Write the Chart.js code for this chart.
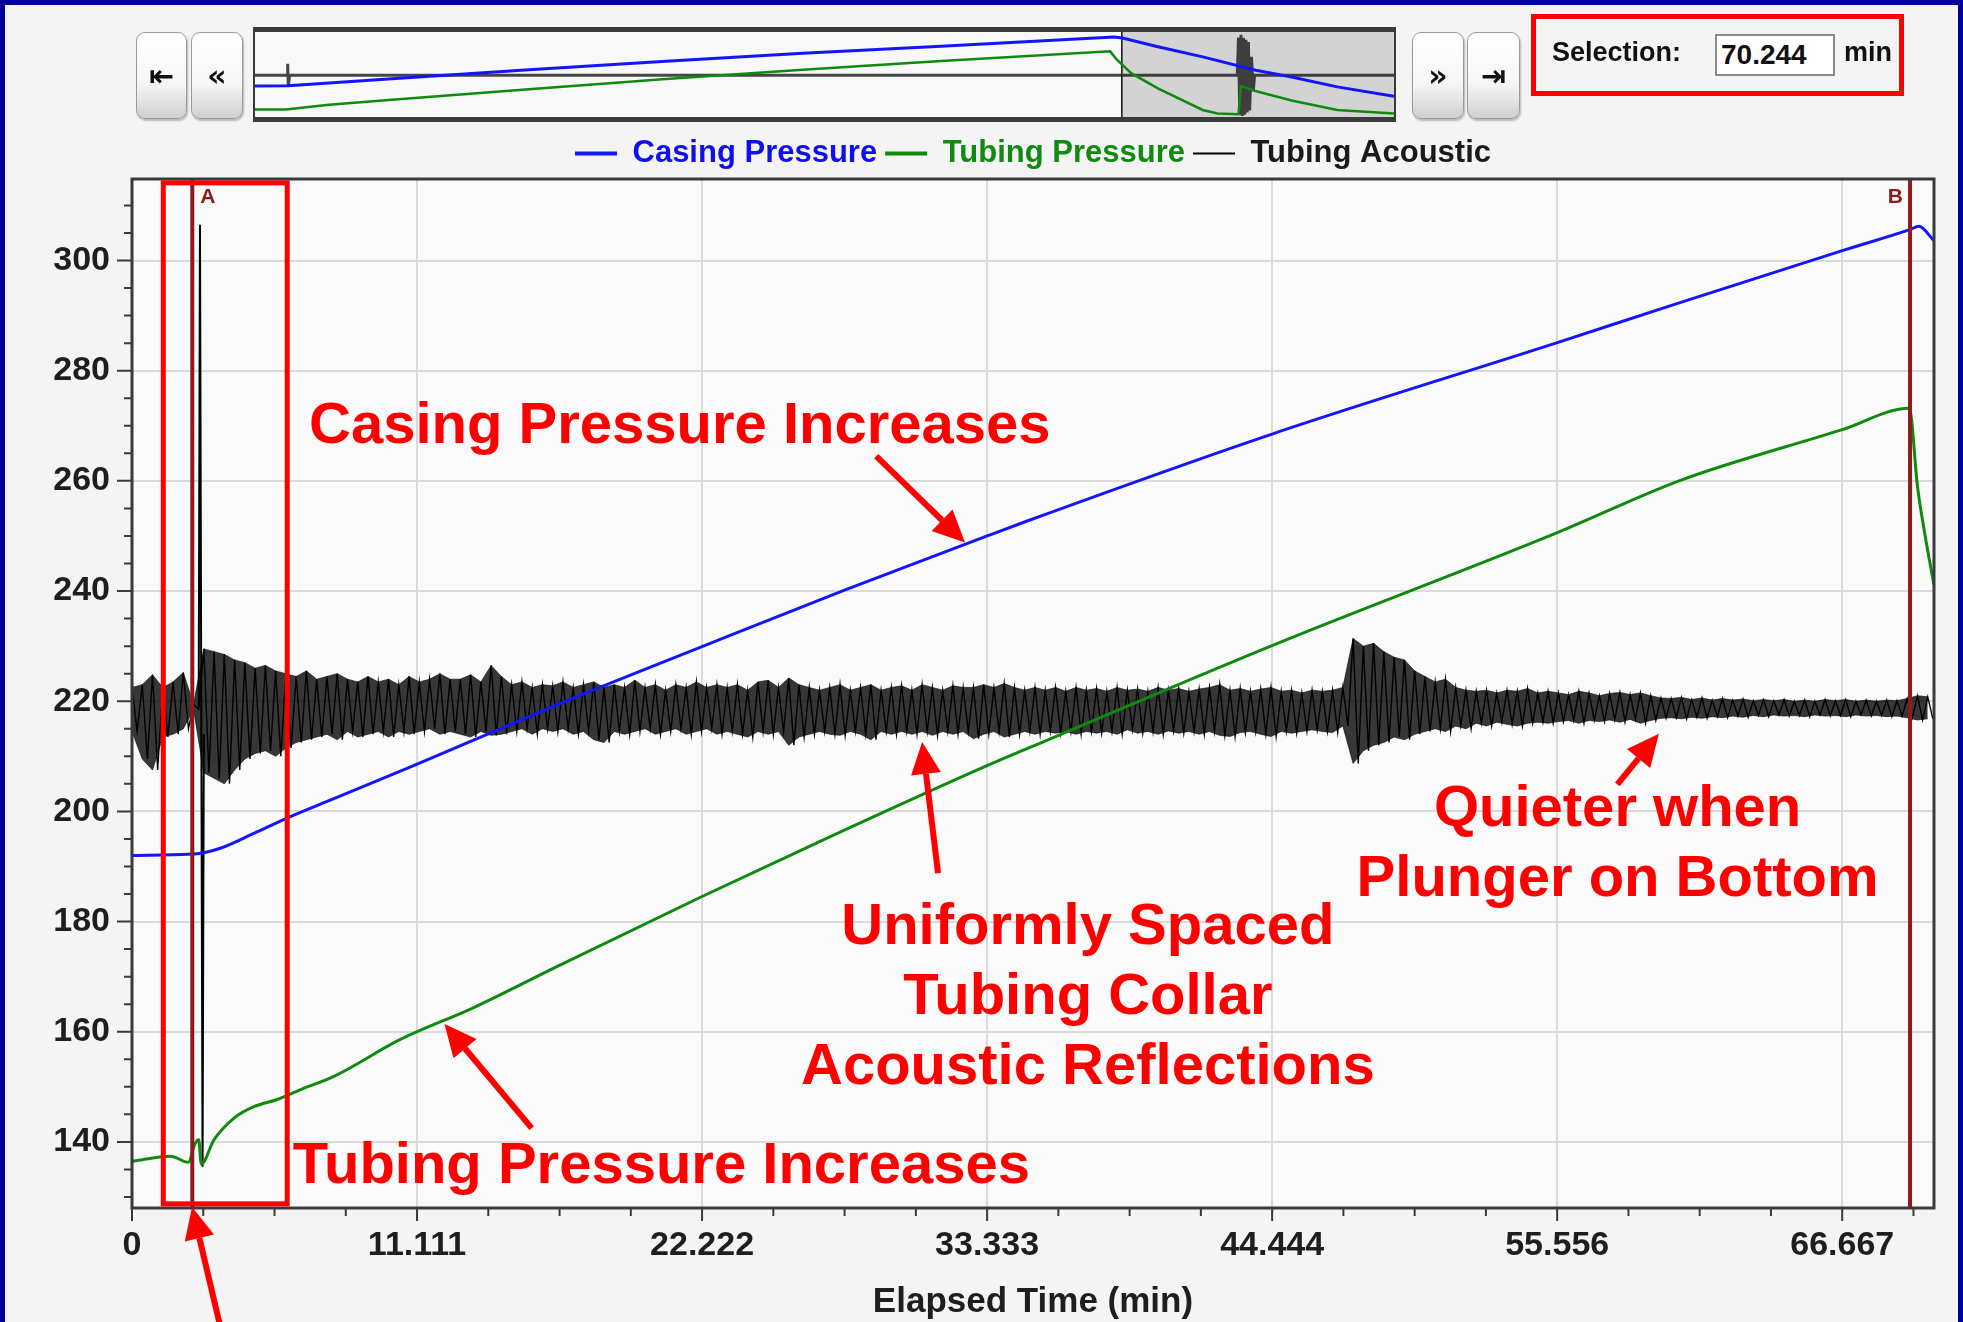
<!DOCTYPE html>
<html>
<head>
<meta charset="utf-8">
<title>Casing / Tubing Pressure and Acoustic</title>
<script src="https://cdn.jsdelivr.net/npm/chart.js@4.4.1/dist/chart.umd.min.js"></script>
<style>
    body { margin: 0; width: 1963px; height: 1322px; overflow: hidden; background: #000099; font-family: "Liberation Sans", Arial, sans-serif; }
    #panel { position: absolute; left: 5px; top: 5px; width: 1953px; height: 1317px; background: #f4f4f4; }
    #main { position: absolute; left: 0; top: 0; }
    .btn { position: absolute; top: 32px; height: 87px; box-sizing: border-box; border: 1px solid #9a9a9a; border-radius: 9px;
           background: linear-gradient(#ffffff, #f6f6f6 60%, #cfcfcf); box-shadow: 1px 2px 2px rgba(0,0,0,0.25);
           font: bold 30px "DejaVu Sans"; color: #111; display: flex; align-items: center; justify-content: center; }
    #nav { position: absolute; left: 253px; top: 27px; width: 1139px; height: 85px; background: #f8f8f8;
           border-top: 5px solid #3a3a3a; border-bottom: 5px solid #3a3a3a; border-left: 2px solid #3a3a3a; border-right: 2px solid #3a3a3a; }
    #selection { position: absolute; left: 1531px; top: 14px; width: 373px; height: 82px; box-sizing: border-box; border: 5px solid #ff0000; }
    #selection span { position: absolute; top: 33px; transform: translateY(-50%); font: bold 27px "Liberation Sans"; color: #111; }
    #sel-input { position: absolute; left: 179px; top: 15px; width: 120px; height: 42px; box-sizing: border-box; background: #fff;
                 border: 2px solid #8a8a8a; font: bold 28px "Liberation Sans"; color: #111; line-height: 38px; padding-left: 4px; }
</style>
</head>
<body>
<div id="panel"></div>
<canvas id="main" width="1963" height="1322"></canvas>

<div class="btn" style="left:136px; width:51px;">⇤</div>
<div class="btn" style="left:191px; width:52px;">«</div>
<div id="nav"><canvas id="navChart" width="1139" height="85"></canvas></div>
<div class="btn" style="left:1412px; width:52px;">»</div>
<div class="btn" style="left:1467px; width:53px;">⇥</div>

<div id="selection">
    <span style="left:16px;">Selection:</span>
    <div id="sel-input">70.244</div>
    <span style="left:308px;">min</span>
</div>

<script>
// --- 1. Data ---
const xMax = 70.244;
const xMajorTicks = [0, 11.111, 22.222, 33.333, 44.444, 55.556, 66.667];
const xTickLabels = ['0', '11.111', '22.222', '33.333', '44.444', '55.556', '66.667'];
const yMajorTicks = [140, 160, 180, 200, 220, 240, 260, 280, 300];
const yTickLabels = ['140', '160', '180', '200', '220', '240', '260', '280', '300'];

const casingTime = [0, 2.2, 2.8, 3.5, 4.75, 6.0, 7.87, 10.46, 16.6, 22.22, 27.8, 33.33, 35.0, 44.44, 55.56, 60.1, 66.67, 69.3, 69.65, 70.244];
const casingPressure = [192.0, 192.2, 192.5, 193.4, 196.0, 198.7, 202.3, 207.3, 219.4, 229.9, 240.2, 250.0, 252.9, 268.5, 285.1, 292.0, 301.8, 305.6, 306.2, 303.6];

const tubingTime = [0, 1.5, 2.2, 2.45, 2.6, 2.7, 3.2, 4.0, 4.75, 5.66, 6.57, 7.87, 10.46, 13.28, 16.64, 22.2, 26.7, 33.33, 35.0, 44.44, 55.56, 60.36, 66.67, 69.28, 69.6, 69.9, 70.244];
const tubingPressure = [136.5, 137.4, 136.3, 139.6, 140.4, 136.0, 140.4, 144.4, 146.4, 147.7, 149.5, 151.9, 158.6, 164.3, 172.0, 184.5, 194.3, 208.3, 211.6, 230.1, 250.6, 260.1, 269.3, 273.2, 259.0, 250.0, 241.1];

// acoustic trace: upper / lower swing of each 0.4 min slice
const acousticStep = 0.4;
const acousticHigh = [
    222.5, 223.0, 224.8, 222.5, 223.5, 225.2, 219.5, 229.5, 229.0, 228.5,   // 0.0 - 3.6
    227.5, 227.0, 226.0, 226.5, 225.5, 225.0, 224.5, 225.5, 224.0, 224.5,   // 4.0 - 7.6
    225.0, 224.0, 223.5, 224.5, 223.5, 224.0, 223.0, 224.5, 223.5, 224.0,   // 8.0 - 11.6
    225.0, 224.0, 224.0, 224.8, 223.5, 226.5, 224.5, 223.0, 223.5, 222.5,   // 12.0 - 15.6
    223.0, 222.8, 223.5, 222.5, 223.0, 223.5, 222.5, 223.0, 222.5, 223.8,   // 16.0 - 19.6
    222.5, 223.0, 222.0, 223.0, 222.5, 223.5, 222.5, 223.0, 222.5, 223.0,   // 20.0 - 23.6
    222.0, 223.5, 223.8, 222.5, 224.2, 223.0, 222.5, 222.0, 222.5, 223.0,   // 24.0 - 27.6
    222.0, 222.5, 223.0, 222.0, 222.5, 222.8, 222.0, 223.0, 222.5, 222.0,   // 28.0 - 31.6
    222.8, 222.5, 222.5, 223.0, 222.5, 223.2, 222.5, 222.0, 222.5, 222.0,   // 32.0 - 35.6
    222.5, 221.8, 222.5, 222.0, 222.3, 221.8, 222.5, 222.0, 222.2, 221.8,   // 36.0 - 39.6
    222.5, 222.0, 222.3, 221.8, 222.2, 222.5, 223.0, 222.0, 222.3, 221.8,   // 40.0 - 43.6
    222.2, 222.5, 221.8, 222.0, 221.5, 222.0, 221.8, 222.0, 222.5, 231.4,   // 44.0 - 47.6
    230.0, 230.5, 229.0, 228.0, 227.5, 225.5, 224.5, 223.5, 224.0, 222.5,   // 48.0 - 51.6
    222.0, 221.8, 222.0, 221.5, 222.0, 221.8, 222.3, 221.5, 221.8, 221.5,   // 52.0 - 55.6
    221.2, 221.8, 221.5, 221.0, 221.4, 221.6, 221.2, 221.5, 221.0, 220.6,   // 56.0 - 59.6
    220.5, 220.7, 220.3, 220.6, 220.2, 220.5, 220.2, 220.4, 220.1, 220.3,   // 60.0 - 63.6
    220.1, 220.3, 220.0, 220.2, 220.0, 220.3, 220.1, 220.3, 220.0, 220.2,   // 64.0 - 67.6
    220.0, 220.2, 220.1, 220.5, 221.0, 220.8                                // 68.0 - 70.0
];
const acousticLow = [
    214.5, 209.5, 207.5, 213.5, 214.0, 215.0, 218.5, 207.0, 206.0, 205.0,
    207.5, 209.5, 210.5, 211.0, 210.0, 211.5, 212.5, 213.0, 213.5, 214.0,
    213.0, 214.5, 213.5, 214.0, 214.5, 213.5, 214.5, 214.0, 214.5, 215.0,
    214.0, 214.5, 214.0, 213.5, 214.5, 213.8, 214.0, 214.5, 215.0, 214.0,
    215.0, 214.5, 215.0, 214.0, 214.5, 213.0, 212.5, 214.5, 214.0, 214.5,
    215.0, 214.0, 214.5, 215.0, 214.0, 214.5, 215.0, 214.0, 214.5, 214.0,
    213.5, 214.5, 214.0, 214.5, 212.0, 213.5, 214.0, 214.5, 214.0, 213.8,
    214.5, 214.0, 213.0, 214.5, 214.0, 214.5, 214.0, 214.5, 213.8, 214.5,
    214.0, 214.5, 213.2, 214.0, 214.5, 213.5, 214.0, 214.5, 214.0, 214.5,
    214.2, 214.5, 214.0, 214.5, 214.2, 214.5, 214.0, 214.8, 214.2, 214.5,
    214.0, 214.6, 214.2, 214.5, 214.0, 214.5, 213.8, 213.6, 214.3, 214.5,
    214.0, 213.6, 214.5, 214.2, 214.5, 214.8, 214.5, 214.3, 215.5, 208.7,
    211.0, 212.0, 212.5, 213.5, 213.0, 214.0, 214.5, 215.0, 214.5, 215.5,
    215.0, 216.0, 215.5, 216.2, 215.8, 215.5, 216.0, 216.2, 216.0, 216.3,
    216.5, 216.0, 216.5, 216.3, 216.6, 216.2, 216.7, 216.0, 216.5, 216.9,
    217.0, 216.8, 217.1, 216.9, 217.2, 217.0, 217.3, 217.1, 217.4, 217.2,
    217.5, 217.3, 217.4, 217.2, 217.5, 217.3, 217.4, 217.2, 217.5, 217.3,
    217.4, 217.2, 217.3, 217.0, 216.6, 216.8
];
// the tall spike just after marker A
const spikeTime = [2.60, 2.65, 2.70, 2.75, 2.80];
const spikeValue = [219.0, 306.5, 219.0, 135.5, 214.0];

const markerLabels = ['A', 'B'];
const markerTimes = [2.35, 69.31];

// overview strip (whole record, minutes)
const navCasingTime = [0, 2.7, 6, 11.1, 22.2, 33.3, 44.4, 55.6, 69.6, 70.3, 73, 76.8, 81.1, 84, 87.7, 92.3];
const navCasing = [192, 192.5, 199, 209, 230, 250, 268.5, 285, 306.5, 304, 285, 260, 229, 213, 190, 168];
const navTubingTime = [0, 2.5, 6, 11.1, 22.2, 33.3, 44.4, 55.6, 69.3, 69.8, 71, 73.2, 76.8, 78, 79.7, 79.9, 81, 84, 87.7, 92.3];
const navTubing = [137, 137, 148, 160, 184.5, 208.3, 230, 250.6, 273, 255, 222, 186, 136, 128, 126, 192, 181, 158, 136, 127.5];
const navAcousticTime = [0, 2.6, 2.65, 2.7, 2.8, 79.6, 79.7, 79.8, 79.9, 80.0, 80.1, 80.2, 80.3, 80.4, 80.5, 80.6, 80.75, 80.9, 81.0, 92.3];
const navAcoustic = [217, 217, 244, 190, 217, 217, 305, 125, 312, 122, 305, 125, 300, 130, 295, 135, 260, 180, 217, 217];

// --- 2. Callout texts, arrows and boxes (in data units) ---
const callouts = [
    { lines: ['Casing Pressure Increases'], x: 6.90, y: 266.9, align: 'left' },
    { lines: ['Tubing Pressure Increases'], x: 6.27, y: 132.6, align: 'left' },
    { lines: ['Uniformly Spaced', 'Tubing Collar', 'Acoustic Reflections'], x: 37.26, y: 176.0, align: 'center' },
    { lines: ['Quieter when', 'Plunger on Bottom'], x: 57.91, y: 197.4, align: 'center' }
];
const arrows = [
    { from: [29.01, 264.5], to: [32.47, 248.8] },
    { from: [15.58, 142.5], to: [12.18, 161.4] },
    { from: [31.42, 188.8], to: [30.80, 212.6] },
    { from: [57.90, 204.9], to: [59.52, 214.1] },
    { from: [3.47, 105.9], to: [2.34, 128.2] }
];
const boxes = [{ x1: 1.22, x2: 6.05, y1: 314.1, y2: 128.75 }];

const tickFont = { family: 'Liberation Sans', weight: 'bold', size: 34 };

function zip(xs, ys) {
    return xs.map((x, i) => ({ x: x, y: ys[i] }));
}

// zigzag between the upper and lower swing of each slice
function acousticPoints() {
    const pts = [];
    acousticHigh.forEach((hi, i) => {
        pts.push({ x: i * acousticStep, y: hi });
        pts.push({ x: i * acousticStep + acousticStep / 2, y: acousticLow[i] });
    });
    return pts;
}
const acousticTimes = acousticHigh.map((_, i) => i * acousticStep);

// --- 3. Plugins: background, frame + ticks, markers, callouts ---
const plotBackground = {
    id: 'plotBackground',
    beforeDraw(chart) {
        const { ctx, chartArea: a } = chart;
        ctx.save();
        ctx.fillStyle = '#fafafa';
        ctx.fillRect(a.left, a.top, a.width, a.height);
        ctx.restore();
    }
};

const frameAndTicks = {
    id: 'frameAndTicks',
    afterDatasetsDraw(chart) {
        const { ctx, chartArea: a, scales: { x, y } } = chart;
        ctx.save();

        // A / B markers
        ctx.strokeStyle = '#8e1b1b';
        ctx.fillStyle = '#8e1b1b';
        ctx.lineWidth = 4;
        ctx.font = 'bold 21px "Liberation Sans"';
        ctx.textBaseline = 'alphabetic';
        markerTimes.forEach((t, i) => {
            const px = x.getPixelForValue(t);
            ctx.beginPath();
            ctx.moveTo(px, a.top);
            ctx.lineTo(px, a.bottom);
            ctx.stroke();
            ctx.textAlign = i === 0 ? 'left' : 'right';
            ctx.fillText(markerLabels[i], i === 0 ? px + 8 : px - 7, a.top + 24);
        });

        // frame
        ctx.strokeStyle = '#3a3a3a';
        ctx.lineWidth = 3;
        ctx.strokeRect(a.left, a.top, a.width, a.height);

        // major / minor ticks
        ctx.lineWidth = 2;
        ctx.beginPath();
        for (let v = 0; v <= xMax; v += 11.111 / 4) {
            const px = x.getPixelForValue(v);
            const major = xMajorTicks.some(m => Math.abs(m - v) < 0.01);
            ctx.moveTo(px, a.bottom);
            ctx.lineTo(px, a.bottom + (major ? 13 : 8));
        }
        for (let v = 130; v <= 310; v += 5) {
            const py = y.getPixelForValue(v);
            const major = yMajorTicks.includes(v);
            ctx.moveTo(a.left, py);
            ctx.lineTo(a.left - (major ? 15 : 8), py);
        }
        ctx.stroke();
        ctx.restore();
    }
};

function drawArrow(ctx, x0, y0, x1, y1) {
    const ang = Math.atan2(y1 - y0, x1 - x0);
    const headLen = 32, headHalf = 15;
    const bx = x1 - headLen * Math.cos(ang), by = y1 - headLen * Math.sin(ang);
    ctx.beginPath();
    ctx.moveTo(x0, y0);
    ctx.lineTo(bx, by);
    ctx.stroke();
    ctx.beginPath();
    ctx.moveTo(x1, y1);
    ctx.lineTo(bx + headHalf * Math.sin(ang), by - headHalf * Math.cos(ang));
    ctx.lineTo(bx - headHalf * Math.sin(ang), by + headHalf * Math.cos(ang));
    ctx.closePath();
    ctx.fill();
}

const calloutPlugin = {
    id: 'callouts',
    afterDraw(chart) {
        const { ctx, scales: { x, y } } = chart;
        ctx.save();
        ctx.fillStyle = '#ff0000';
        ctx.strokeStyle = '#ff0000';

        ctx.lineWidth = 5;
        boxes.forEach(b => {
            const l = x.getPixelForValue(b.x1), r = x.getPixelForValue(b.x2);
            const t = y.getPixelForValue(b.y1), btm = y.getPixelForValue(b.y2);
            ctx.strokeRect(l, t, r - l, btm - t);
        });

        ctx.font = 'bold 58px "Liberation Sans"';
        ctx.textBaseline = 'alphabetic';
        callouts.forEach(c => {
            ctx.textAlign = c.align;
            const px = x.getPixelForValue(c.x);
            const py = y.getPixelForValue(c.y);
            c.lines.forEach((line, i) => ctx.fillText(line, px, py + i * 70));
        });

        ctx.lineWidth = 6;
        arrows.forEach(ar => {
            drawArrow(ctx,
                x.getPixelForValue(ar.from[0]), y.getPixelForValue(ar.from[1]),
                x.getPixelForValue(ar.to[0]), y.getPixelForValue(ar.to[1]));
        });
        ctx.restore();
    }
};

// --- 4. Main chart ---
const seriesTextColors = ['#1010ee', '#108a10', '#1a1a1a'];
const seriesLegendWidths = [4, 4, 2];

new Chart(document.getElementById('main'), {
    type: 'line',
    data: {
        datasets: [
            { label: 'Casing Pressure', data: zip(casingTime, casingPressure), borderColor: '#1414ff', borderWidth: 3, cubicInterpolationMode: 'monotone' },
            { label: 'Tubing Pressure', data: zip(tubingTime, tubingPressure), borderColor: '#0f8a0f', borderWidth: 3, cubicInterpolationMode: 'monotone' },
            { label: 'Tubing Acoustic', data: acousticPoints(), borderColor: '#000000', borderWidth: 1.4, tension: 0 },
            // dense body of the acoustic trace: area between the upper and lower swings
            { label: 'acoustic upper', data: zip(acousticTimes, acousticHigh), borderColor: 'rgba(0,0,0,0.6)', borderWidth: 1,
              backgroundColor: 'rgba(0,0,0,0.78)', fill: '+1', tension: 0 },
            { label: 'acoustic lower', data: zip(acousticTimes, acousticLow), borderColor: 'rgba(0,0,0,0.6)', borderWidth: 1, tension: 0 },
            { label: 'acoustic spike', data: zip(spikeTime, spikeValue), borderColor: '#000000', borderWidth: 2, tension: 0 }
        ]
    },
    options: {
        responsive: false,
        animation: false,
        events: [],
        elements: { point: { radius: 0 } },
        layout: { padding: { top: 130, right: 29, bottom: 0, left: 0 } },
        plugins: {
            tooltip: { enabled: false },
            legend: {
                position: 'top',
                fullSize: false,
                labels: {
                    usePointStyle: true,
                    pointStyleWidth: 42,
                    boxHeight: 10,
                    padding: 8,
                    font: { family: 'Liberation Sans', weight: 'bold', size: 31 },
                    generateLabels: chart => chart.data.datasets.slice(0, 3).map((ds, i) => ({
                        text: ds.label,
                        fontColor: seriesTextColors[i],
                        strokeStyle: ds.borderColor,
                        fillStyle: ds.borderColor,
                        lineWidth: seriesLegendWidths[i],
                        pointStyle: 'line',
                        hidden: false,
                        datasetIndex: i
                    }))
                }
            }
        },
        scales: {
            x: {
                type: 'linear',
                min: 0,
                max: xMax,
                afterBuildTicks: s => { s.ticks = xMajorTicks.map(v => ({ value: v })); },
                afterFit: s => { s.height = 114; },
                ticks: { callback: (v, i) => xTickLabels[i], font: tickFont, color: '#1e1e1e', padding: 17, maxRotation: 0, autoSkip: false },
                grid: { color: '#dadada', lineWidth: 2, drawTicks: false },
                border: { display: false },
                title: { display: true, text: 'Elapsed Time (min)', color: '#1e1e1e',
                         font: { family: 'Liberation Sans', weight: 'bold', size: 35, lineHeight: 1.1 }, padding: 0 }
            },
            y: {
                min: 128,
                max: 314.8,
                afterBuildTicks: s => { s.ticks = yMajorTicks.map(v => ({ value: v })); },
                afterFit: s => { s.width = 132; },
                ticks: { callback: (v, i) => yTickLabels[i], font: tickFont, color: '#1e1e1e', padding: 22, autoSkip: false },
                grid: { color: '#dadada', lineWidth: 2, drawTicks: false },
                border: { display: false }
            }
        }
    },
    plugins: [plotBackground, frameAndTicks, calloutPlugin]
});

// --- 5. Overview strip ---
const navShade = {
    id: 'navShade',
    beforeDatasetsDraw(chart) {
        const { ctx, chartArea: a, scales: { x } } = chart;
        const px = x.getPixelForValue(xMax);
        ctx.save();
        ctx.fillStyle = '#d3d3d3';
        ctx.fillRect(px, a.top, a.right - px, a.height);
        ctx.strokeStyle = '#111';
        ctx.lineWidth = 1.5;
        ctx.beginPath();
        ctx.moveTo(px, a.top);
        ctx.lineTo(px, a.bottom);
        ctx.stroke();
        ctx.restore();
    }
};

new Chart(document.getElementById('navChart'), {
    type: 'line',
    data: {
        datasets: [
            { data: zip(navCasingTime, navCasing), borderColor: '#1414ff', borderWidth: 3 },
            { data: zip(navTubingTime, navTubing), borderColor: '#0f8a0f', borderWidth: 2.5 },
            { data: zip(navAcousticTime, navAcoustic), borderColor: 'rgba(25,25,25,0.8)', borderWidth: 3 }
        ]
    },
    options: {
        responsive: false,
        animation: false,
        events: [],
        elements: { point: { radius: 0 } },
        layout: { padding: 0 },
        plugins: { legend: { display: false }, tooltip: { enabled: false } },
        scales: {
            x: { type: 'linear', min: 0, max: 92.3, display: false },
            y: { min: 119.6, max: 318.2, display: false }
        }
    },
    plugins: [navShade]
});
</script>
</body>
</html>
